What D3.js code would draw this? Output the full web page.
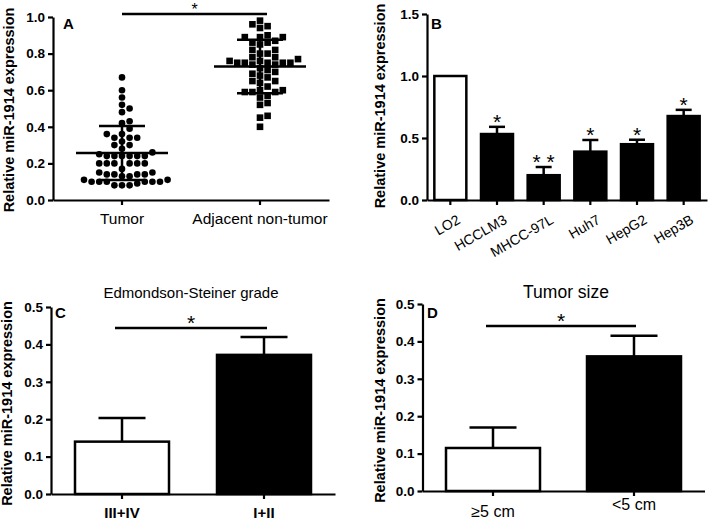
<!DOCTYPE html>
<html><head><meta charset="utf-8">
<script src="https://cdn.jsdelivr.net/npm/d3@7"></script>
<style>body{margin:0;background:#fff} svg{display:block}</style>
</head><body><svg id="c" width="709" height="521"></svg>
<script>
// ---------- DATA ----------
const scatterCategories = ["Tumor", "Adjacent non-tumor"];
const tumorValues = [0.67,0.60,0.56,0.52,0.50,0.48,0.43,0.42,0.39,0.36,0.36,0.34,0.34,0.34,0.32,0.30,0.30,0.28,0.26,0.25,
  0.24,0.24,0.24,0.24,0.24,0.24,0.20,0.20,0.20,0.20,0.20,0.20,0.17,0.15,0.15,0.14,0.14,0.14,0.14,0.13,0.13,
  0.11,0.11,0.10,0.10,0.10,0.10,0.10,0.10,0.09,0.08,0.08,0.08];
const adjacentValues = [0.98,0.96,0.95,0.94,0.90,0.89,0.89,0.89,0.87,0.86,0.86,0.85,0.82,0.82,0.80,0.80,0.78,0.78,0.77,0.76,
  0.76,0.75,0.75,0.75,0.75,0.75,0.74,0.74,0.72,0.71,0.70,0.69,0.68,0.67,0.65,0.65,0.64,0.62,0.60,0.60,
  0.59,0.59,0.59,0.57,0.56,0.53,0.52,0.46,0.45,0.40];
const scatterMean = [0.257, 0.730];
const scatterSD = [0.148, 0.146];
const scatterTicks = [0, 0.2, 0.4, 0.6, 0.8, 1.0];

const cellLines = ["LO2", "HCCLM3", "MHCC-97L", "Huh7", "HepG2", "Hep3B"];
const cellValues = [1.0, 0.532, 0.20, 0.39, 0.45, 0.677];
const cellErrors = [0, 0.058, 0.066, 0.094, 0.036, 0.05];
const cellStars = ["", "*", "* *", "*", "*", "*"];
const cellTicks = [0, 0.5, 1.0, 1.5];

const gradeCategories = ["III+IV", "I+II"];
const gradeValues = [0.14, 0.372];
const gradeErrors = [0.063, 0.048];

const sizeCategories = ["\u22655 cm", "<5 cm"];
const sizeValues = [0.115, 0.36];
const sizeErrors = [0.055, 0.055];

const smallTicks = [0, 0.1, 0.2, 0.3, 0.4, 0.5];

// ---------- DRAW ----------
const F = '"Liberation Sans", Arial, sans-serif';
const svg = d3.select("#c");
const SW = 2.2;

function yAxis(x0, y, ticks) {
  svg.append("g").attr("transform", `translate(${x0},0)`)
    .call(d3.axisLeft(y).tickValues(ticks).tickFormat(d3.format(".1f")).tickSize(5).tickSizeOuter(0).tickPadding(3))
    .call(a => {
      a.selectAll("path,line").attr("stroke", "#000").attr("stroke-width", SW);
      a.selectAll("text").attr("font-size", 13.5).attr("font-weight", "bold").attr("fill", "#000").attr("font-family", F);
    });
}
function xAxis(y0, x) {
  svg.append("g").attr("transform", `translate(0,${y0})`)
    .call(d3.axisBottom(x).tickSize(5).tickSizeOuter(0).tickFormat(""))
    .call(a => a.selectAll("path,line").attr("stroke", "#000").attr("stroke-width", SW));
}
function yTitle(x, cy) {
  svg.append("text").attr("transform", `translate(${x},${cy}) rotate(-90)`)
    .attr("text-anchor", "middle").attr("font-family", F).attr("font-weight", "bold")
    .attr("font-size", 14.5).text("Relative miR-1914 expression");
}
function letter(x, y, t) {
  svg.append("text").attr("x", x).attr("y", y).attr("font-family", F).attr("font-weight", "bold")
    .attr("font-size", 15).text(t);
}
function star(x, baseY, t, size) {
  svg.append("text").attr("x", x).attr("y", baseY).attr("text-anchor", "middle")
    .attr("font-family", F).attr("font-size", size || 21).text(t);
}
function sig(x1, x2, yy, size, off) {
  svg.append("line").attr("x1", x1).attr("x2", x2).attr("y1", yy).attr("y2", yy)
    .attr("stroke", "#000").attr("stroke-width", 2.5);
  star((x1 + x2) / 2, yy + (off == null ? 1.5 : off), "*", size);
}

// ===== Panel A =====
{
  const x = d3.scaleBand().domain(scatterCategories).range([53, 329]);
  const y = d3.scaleLinear().domain([0, 1]).range([200, 17]);
  xAxis(200, x); yAxis(53, y, scatterTicks);
  yTitle(14, 110);
  letter(63, 29, "A");

  function swarm(vals) {
    const placed = [];
    const s = 7.6, d = 6.8;
    const sorted = vals.slice().sort((a, b) => a - b);
    for (const v of sorted) {
      const py = y(v);
      for (let k = 0; k < 60; k++) {
        const off = k === 0 ? 0 : (k % 2 ? 1 : -1) * Math.ceil(k / 2) * s;
        if (!placed.some(p => Math.hypot(p.dx - off, p.py - py) < d)) { placed.push({dx: off, py, v}); break; }
      }
    }
    return placed;
  }
  const tp = swarm(tumorValues), ap = swarm(adjacentValues);
  const cx0 = x(scatterCategories[0]) + x.bandwidth() / 2;
  const cx1 = x(scatterCategories[1]) + x.bandwidth() / 2;
  svg.append("g").selectAll("circle").data(tp).join("circle")
    .attr("cx", p => cx0 + p.dx).attr("cy", p => y(p.v)).attr("r", 3.3).attr("fill", "#000");
  svg.append("g").selectAll("rect").data(ap).join("rect")
    .attr("x", p => cx1 + p.dx - 3.3).attr("y", p => y(p.v) - 3.3).attr("width", 6.6).attr("height", 6.6).attr("fill", "#000");
  [cx0, cx1].forEach((cx, i) => {
    const m = scatterMean[i], sd = scatterSD[i];
    const g = svg.append("g").attr("stroke", "#000").attr("stroke-width", 2.5);
    g.append("line").attr("x1", cx - 46).attr("x2", cx + 46).attr("y1", y(m)).attr("y2", y(m));
    g.append("line").attr("x1", cx).attr("x2", cx).attr("y1", y(m - sd)).attr("y2", y(m + sd));
    g.append("line").attr("x1", cx - 23).attr("x2", cx + 23).attr("y1", y(m + sd)).attr("y2", y(m + sd));
    g.append("line").attr("x1", cx - 23).attr("x2", cx + 23).attr("y1", y(m - sd)).attr("y2", y(m - sd));
    svg.append("text").attr("x", cx).attr("y", 224).attr("text-anchor", "middle")
      .attr("font-family", F).attr("font-size", 15.5).text(scatterCategories[i]);
  });
  sig(cx0, cx0 + 145, 14, 16, 1);
}

// ===== Panel B =====
{
  const x = d3.scaleBand().domain(cellLines).range([427, 707]);
  const y = d3.scaleLinear().domain([0, 1.5]).range([200, 14]);
  const bw = 32;
  const g = svg.append("g");
  cellLines.forEach((c, i) => {
    const cx = x(c) + x.bandwidth() / 2;
    const v = cellValues[i], e = cellErrors[i];
    if (e > 0) {
      g.append("line").attr("x1", cx).attr("x2", cx).attr("y1", y(v)).attr("y2", y(v + e)).attr("stroke", "#000").attr("stroke-width", 2.5);
      g.append("line").attr("x1", cx - bw / 4).attr("x2", cx + bw / 4).attr("y1", y(v + e)).attr("y2", y(v + e)).attr("stroke", "#000").attr("stroke-width", 2.5);
    }
    g.append("rect").attr("x", cx - bw / 2).attr("y", y(v)).attr("width", bw).attr("height", y(0) - y(v))
      .attr("fill", i === 0 ? "#fff" : "#000").attr("stroke", "#000").attr("stroke-width", 2.5);
    if (cellStars[i]) star(cx, y(v + e) + 2, cellStars[i]);
    svg.append("text").attr("transform", `translate(${cx + 6},${214}) rotate(-30)`)
      .attr("text-anchor", "end").attr("dy", "0.7em").attr("font-family", F).attr("font-size", 14).text(c);
  });
  xAxis(200, x); yAxis(427, y, cellTicks);
  yTitle(385, 106);
  letter(431, 29, "B");
}

// ===== Panels C & D =====
function barPanel(cats, vals, errs, x0, x1, y0, y5, letterXY, title, titleSize, sigX2, sigY, labelSpec, yTitleX) {
  const x = d3.scaleBand().domain(cats).range([x0, x1]);
  const y = d3.scaleLinear().domain([0, 0.5]).range([y0, y5]);
  const bw = 94;
  cats.forEach((c, i) => {
    const cx = x(c) + x.bandwidth() / 2;
    const v = vals[i], e = errs[i];
    svg.append("line").attr("x1", cx).attr("x2", cx).attr("y1", y(v)).attr("y2", y(v + e)).attr("stroke", "#000").attr("stroke-width", 2.5);
    svg.append("line").attr("x1", cx - bw / 4).attr("x2", cx + bw / 4).attr("y1", y(v + e)).attr("y2", y(v + e)).attr("stroke", "#000").attr("stroke-width", 2.5);
    svg.append("rect").attr("x", cx - bw / 2).attr("y", y(v)).attr("width", bw).attr("height", y(0) - y(v))
      .attr("fill", i === 0 ? "#fff" : "#000").attr("stroke", "#000").attr("stroke-width", 2.5);
    svg.append("text").attr("x", cx).attr("y", labelSpec.ys[i]).attr("text-anchor", "middle")
      .attr("font-family", F).attr("font-size", labelSpec.size).attr("font-weight", labelSpec.weight).text(c);
  });
  xAxis(y0, x); yAxis(x0, y, smallTicks);
  yTitle(yTitleX, (y5 + y0) / 2 + 3);
  letter(letterXY[0], letterXY[1], letterXY[2]);
  const c0 = x(cats[0]) + x.bandwidth() / 2;
  svg.append("text").attr("x", title[1]).attr("y", 298).attr("text-anchor", "middle")
    .attr("font-family", F).attr("font-size", titleSize).text(title[0]);
  sig(c0 - 7, sigX2, sigY);
}
barPanel(gradeCategories, gradeValues, gradeErrors, 51, 335, 494, 307, [55, 318, "C"],
  ["Edmondson-Steiner grade", 191], 15, 267, 328, {ys: [518, 518], size: 15, weight: "bold"}, 12);
barPanel(sizeCategories, sizeValues, sizeErrors, 422.5, 704.5, 491, 304, [427, 318, "D"],
  ["Tumor size", 566], 17.5, 636, 326, {ys: [517, 510], size: 16, weight: "normal"}, 385);
</script></body></html>
